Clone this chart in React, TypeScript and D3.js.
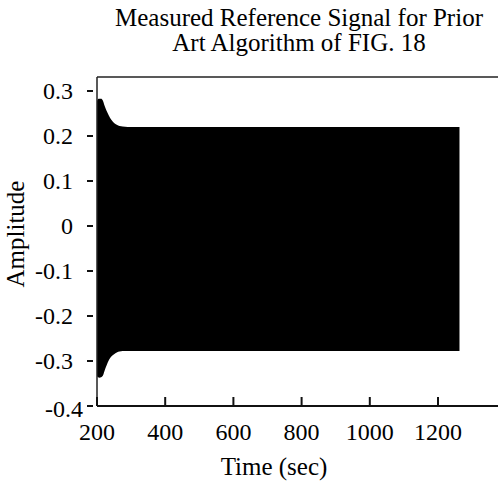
import React, { useEffect, useRef } from 'react';
import * as d3 from 'd3';

// envelope of the dense oscillation (top and bottom of the black band)
const times = [200, 203, 207, 212, 217, 222, 228, 235, 242, 250, 258, 266, 275, 290, 400, 700, 1000, 1263];
const upper = [0.278, 0.282, 0.283, 0.283, 0.279, 0.268, 0.256, 0.245, 0.236, 0.229, 0.225, 0.222, 0.221, 0.22, 0.22, 0.22, 0.22, 0.22];
const lower = [-0.334, -0.336, -0.337, -0.336, -0.333, -0.322, -0.31, -0.298, -0.29, -0.285, -0.281, -0.279, -0.278, -0.278, -0.278, -0.278, -0.278, -0.278];

const xTicks = [200, 400, 600, 800, 1000, 1200];
const yTicks = [0.3, 0.2, 0.1, 0, -0.1, -0.2, -0.3, -0.4];
const titleLines = ['Measured Reference Signal for Prior', 'Art Algorithm of FIG. 18'];

const W = 498;
const H = 488;
const FONT = '"Liberation Serif", "Times New Roman", serif';

function App() {
    const ref = useRef<SVGSVGElement>(null);

    useEffect(() => {
        const svg = d3.select(ref.current);
        svg.selectAll('*').remove();

        const left = 97;
        const top = 77;
        const bottom = 406;

        const x = d3.scaleLinear().domain([200, 1400]).range([left, left + 1200 * 0.341]);
        const y = d3.scaleLinear().domain([-0.4, 0.3]).range([bottom, 91]);

        const data = times.map((t, i) => ({ t, hi: upper[i], lo: lower[i] }));

        const area = d3.area<{ t: number; hi: number; lo: number }>()
            .x((d) => x(d.t))
            .y0((d) => y(d.lo))
            .y1((d) => y(d.hi))
            .curve(d3.curveMonotoneX);

        svg.append('path')
            .datum(data)
            .attr('fill', '#000')
            .attr('d', area);

        // frame: left, top, bottom (no right border visible)
        svg.append('line')
            .attr('x1', left).attr('x2', left)
            .attr('y1', top).attr('y2', bottom)
            .attr('stroke', '#222').attr('stroke-width', 1.5);
        svg.append('line')
            .attr('x1', left).attr('x2', W)
            .attr('y1', top).attr('y2', top)
            .attr('stroke', '#222').attr('stroke-width', 1.5);
        svg.append('line')
            .attr('x1', left).attr('x2', W)
            .attr('y1', bottom).attr('y2', bottom)
            .attr('stroke', '#111').attr('stroke-width', 1.8);

        // x ticks point inward
        xTicks.forEach((t) => {
            svg.append('line')
                .attr('x1', x(t)).attr('x2', x(t))
                .attr('y1', bottom).attr('y2', bottom - 9)
                .attr('stroke', '#111').attr('stroke-width', 2);
            svg.append('text')
                .attr('x', x(t)).attr('y', 440)
                .attr('text-anchor', 'middle')
                .attr('font-family', FONT).attr('font-size', 24)
                .text(t);
        });

        // y ticks sit just outside the axis
        yTicks.forEach((v) => {
            svg.append('line')
                .attr('x1', left - 10).attr('x2', left - 4)
                .attr('y1', y(v)).attr('y2', y(v))
                .attr('stroke', '#111').attr('stroke-width', 2);
            svg.append('text')
                .attr('x', v === -0.4 ? 83 : 73).attr('y', y(v) + (v === -0.4 ? 3 : 0))
                .attr('dy', '0.33em')
                .attr('text-anchor', 'end')
                .attr('font-family', FONT).attr('font-size', 24)
                .text(v === 0 ? '0' : v.toFixed(1));
        });

        titleLines.forEach((s, i) => {
            svg.append('text')
                .attr('x', 299).attr('y', 26 + i * 25)
                .attr('text-anchor', 'middle')
                .attr('font-family', FONT).attr('font-size', 25)
                .text(s);
        });

        svg.append('text')
            .attr('x', 274).attr('y', 475)
            .attr('text-anchor', 'middle')
            .attr('font-family', FONT).attr('font-size', 25)
            .text('Time (sec)');

        svg.append('text')
            .attr('transform', 'translate(24,234) rotate(-90)')
            .attr('text-anchor', 'middle')
            .attr('font-family', FONT).attr('font-size', 25)
            .text('Amplitude');
    }, []);

    return (
        <svg ref={ref} width={W} height={H}
            style={{ position: 'absolute', left: 0, top: 0, background: '#fff' }} />
    );
}

export default App;
